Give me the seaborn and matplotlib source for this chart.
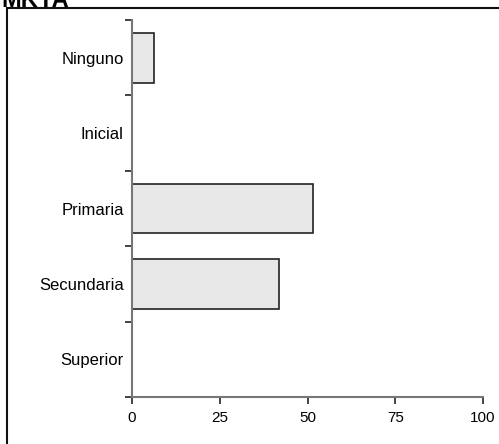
import matplotlib
matplotlib.use("Agg")
import matplotlib.pyplot as plt
import matplotlib.patches as mpatches
import seaborn as sns
import pandas as pd
import numpy as np

categories = ["Ninguno", "Inicial", "Primaria", "Secundaria", "Superior"]
values = [6.4, 0.0, 51.6, 41.9, 0.0]
x_ticks = [0, 25, 50, 75, 100]
title = "MKYA"

sns.set_style("white")
plt.rcParams['font.family'] = ['Liberation Sans', 'DejaVu Sans']
plt.rcParams['text.color'] = 'black'
plt.rcParams['xtick.labelcolor'] = 'black'
plt.rcParams['ytick.labelcolor'] = 'black'

df = pd.DataFrame({"cat": categories, "val": values})

W, H = 499, 444
fig = plt.figure(figsize=(W / 100, H / 100), dpi=100)
ax = fig.add_axes([132 / W, 1 - 397 / H, (483 - 132) / W, (397 - 20) / H])

sns.barplot(data=df, x="val", y="cat", orient="h", color="#e8e8e8",
            edgecolor="#222222", linewidth=1.2, width=0.66, saturation=1, ax=ax)

ax.set_xlim(0, 100)
ax.set_ylim(len(categories) - 0.5, -0.5)
ax.set_xticks(x_ticks)
ax.set_xticklabels([str(t) for t in x_ticks])
ax.set_xlabel("")
ax.set_ylabel("")

# category labels at centers without tick marks; tick marks at boundaries
ax.set_yticks(range(len(categories)))
ax.set_yticklabels(categories)
ax.tick_params(axis="y", which="major", length=0, pad=6, labelsize=12, labelcolor="black")
ax.set_yticks(np.arange(-0.5, len(categories), 1.0), minor=True)
ax.tick_params(axis="y", which="minor", length=5, width=1.2, color="#222222", direction="out", left=True)
ax.tick_params(axis="x", which="major", length=5, width=1.2, color="#222222", direction="out",
               bottom=True, pad=5, labelsize=11, labelcolor="black")

for s in ["top", "right"]:
    ax.spines[s].set_visible(False)
for s in ["left", "bottom"]:
    ax.spines[s].set_color("#777777")
    ax.spines[s].set_linewidth(1.5)

# figure border
rect = mpatches.Rectangle((7 / W, -0.05), 1.2, 1 - 8.5 / H + 0.05, transform=fig.transFigure,
                          fill=False, edgecolor="#111111", linewidth=1.5, clip_on=False)
fig.patches.append(rect)

fig.text(1 / W, 1 - 7 / H, title, fontweight="bold", fontsize=17, va="baseline", ha="left",
         color="black")

fig.savefig("out.png", dpi=100)
